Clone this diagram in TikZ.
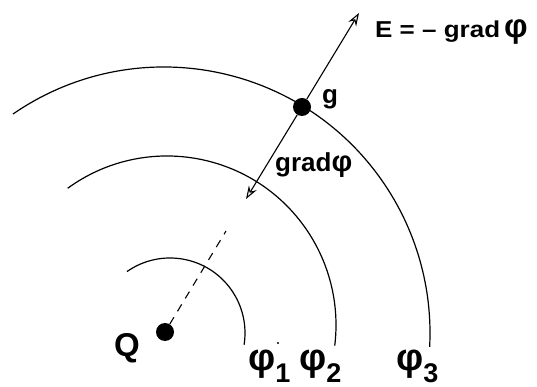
\documentclass[tikz,border=0pt]{standalone}
\usepackage{fontspec}
\setmainfont{Liberation Sans}
\usetikzlibrary{arrows.meta,calc}
\newcommand{\bigphi}[1]{{\fontsize{#1}{#1}\selectfont φ}}
\begin{document}
\begin{tikzpicture}[x=1pt,y=1pt,
  equi/.style={line width=1.2pt},
  vec/.style={line width=1.1pt,-{Stealth[open,length=13pt,width=9pt]}},
  dotnode/.style={circle,fill=black,inner sep=0pt,minimum size=18pt},
  lbl/.style={font=\bfseries\fontsize{26}{28}\selectfont,inner sep=0pt,anchor=base west},
  philbl/.style={font=\bfseries\fontsize{27}{29}\selectfont,inner sep=0pt,anchor=base west}]
\useasboundingbox (0,0) rectangle (537,387);
% equipotential arcs
\draw[equi] ($(170,54)+(125:75)$) arc[start angle=125,end angle=-9,radius=75];
\draw[equi] ($(167,62)+(126:169)$) arc[start angle=126,end angle=-7,radius=169];
\draw[equi] ($(164,54)+(124.6:266)$) arc[start angle=124.6,end angle=-3,radius=266];
% points
\node[dotnode] (Q) at (165,55) {};
\node[dotnode] (g) at (302,280) {};
\coordinate (Etip) at (359,374);
\coordinate (Gtip) at (246,188);
\coordinate (Dend) at (226,156);
\fill (278,44) circle[radius=1.1pt];
% lines
\draw[line width=1.1pt,dash pattern=on 8pt off 7pt] (Q) -- (Dend);
\draw[vec] (g) -- (Etip);
\draw[vec] (g) -- (Gtip);
% labels
\node[lbl] (Elbl) at (375,349) {\scalebox{1.13}[1]{\fontsize{23}{25}\selectfont E = – grad}\hspace{4pt}\bigphi{33}};
\node[lbl] (glbl) at (322,283.5) {g};
\node[lbl] (gradlbl) at (275,215.5) {grad\bigphi{29}};
\node[lbl,font=\bfseries\fontsize{33}{35}\selectfont] (Qlbl) at (114,30) {Q};
\node[philbl] (p1) at (248,16) {\bigphi{38}\raisebox{-11.5pt}{1}};
\node[philbl] (p2) at (299,16) {\bigphi{38}\raisebox{-11.5pt}{2}};
\node[philbl] (p3) at (396,16) {\bigphi{38}\raisebox{-11.5pt}{3}};
\end{tikzpicture}
\end{document}
